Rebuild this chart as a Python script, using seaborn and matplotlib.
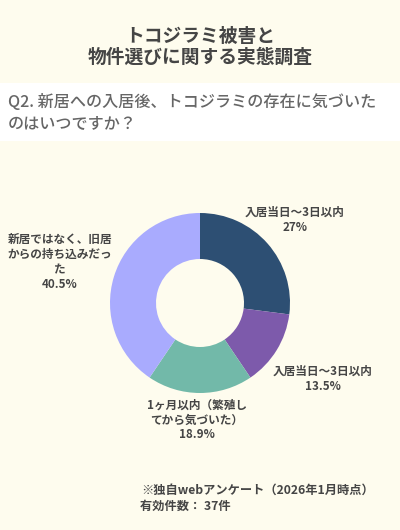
import matplotlib
matplotlib.use("Agg")
import matplotlib.pyplot as plt
import seaborn as sns
from matplotlib.patches import Rectangle

sns.set_theme(style="white")
plt.rcParams['font.family'] = ['Noto Sans CJK JP', 'DejaVu Sans']

categories = ["入居当日～3日以内", "入居当日～3日以内", "1ヶ月以内（繁殖し\nてから気づいた）", "新居ではなく、旧居\nからの持ち込みだっ\nた"]
values = [27, 13.5, 18.9, 40.5]
value_labels = ["27%", "13.5%", "18.9%", "40.5%"]
colors = sns.color_palette(["#2D4F73", "#7D5AAB", "#72B9A9", "#A9ABFE"])

BG = "#FEFCEE"
TXT = "#454545"

fig = plt.figure(figsize=(4.0, 5.3), dpi=100, facecolor=BG)
ax = fig.add_axes([0, 0, 1, 1])
ax.set_facecolor(BG)

ax.pie(values, colors=colors, startangle=90, counterclock=False,
       center=(200, 530 - 303), radius=90,
       wedgeprops=dict(width=46, edgecolor="none"))

ax.set_xlim(0, 400)
ax.set_ylim(0, 530)
ax.set_aspect("equal")
ax.axis("off")

# white question band
ax.add_patch(Rectangle((0, 530 - 141), 400, 58, facecolor="white", edgecolor="none", zorder=0))

fig.text(0.5, 1 - 36 / 530, "トコジラミ被害と", ha="center", va="center",
         fontsize=13.5, fontweight="bold", color=TXT)
fig.text(0.5, 1 - 57 / 530, "物件選びに関する実態調査", ha="center", va="center",
         fontsize=13.5, fontweight="bold", color=TXT)
fig.text(8 / 400, 1 - 102 / 530, "Q2. 新居への入居後、トコジラミの存在に気づいた", ha="left", va="center",
         fontsize=11.6, fontweight="medium", color="#666666")
fig.text(8 / 400, 1 - 124 / 530, "のはいつですか？", ha="left", va="center",
         fontsize=11.6, fontweight="medium", color="#666666")

label_pos = [(295, 220), (323, 379), (197, 420), (60, 262)]
for cat, vl, (x, y) in zip(categories, value_labels, label_pos):
    ax.text(x, 530 - y, cat + "\n" + vl, ha="center", va="center",
            fontsize=8.4, fontweight="bold", color=TXT, linespacing=1.2)

fig.text(141 / 400, 1 - 490 / 530, "※独自webアンケート（2026年1月時点）", ha="left", va="center",
         fontsize=8.8, fontweight="bold", color=TXT)
fig.text(140 / 400, 1 - 506 / 530, "有効件数： 37件", ha="left", va="center",
         fontsize=8.8, fontweight="bold", color=TXT)

fig.savefig("out.png", dpi=100, facecolor=BG)
